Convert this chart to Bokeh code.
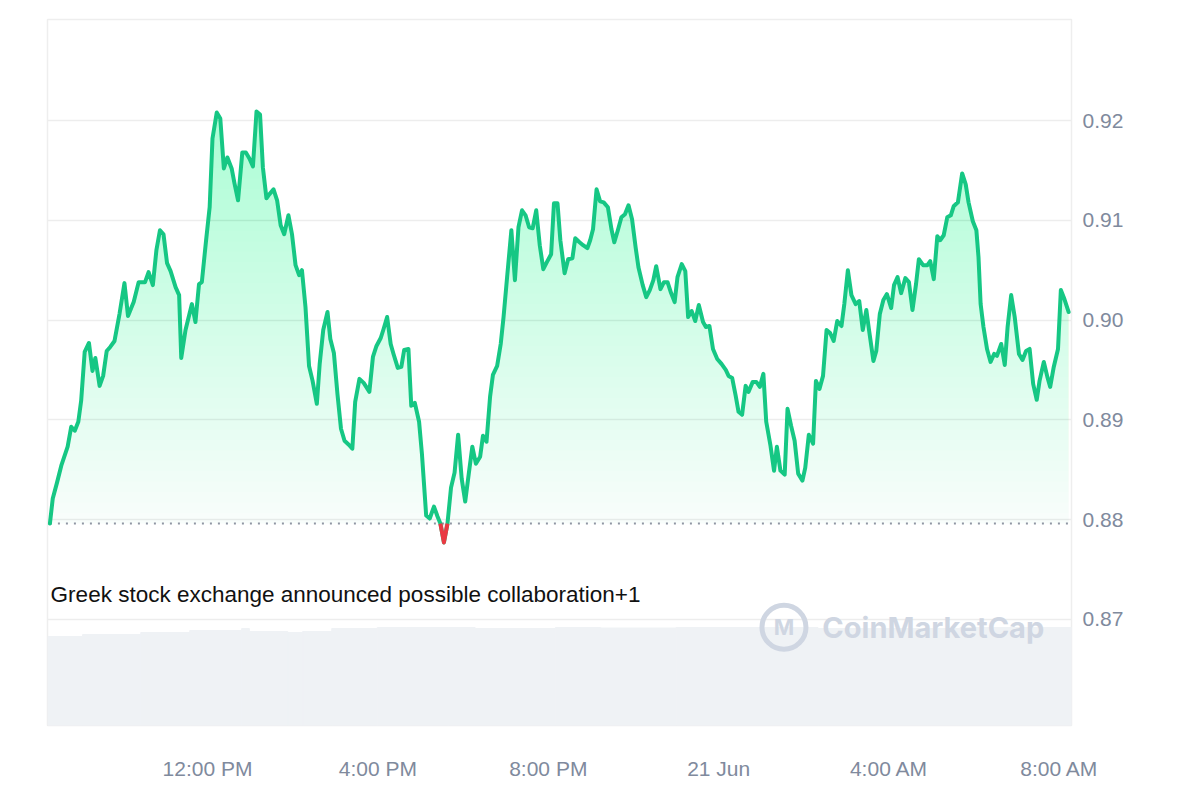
import numpy as np
from bokeh.plotting import figure
from bokeh.models import Range1d, FixedTicker, Label, PrintfTickFormatter
from bokeh.embed import file_html
from bokeh.resources import INLINE

# time in minutes since 08:00 on 20 Jun
minutes = [
    18, 22, 28, 34, 43, 48, 53, 58, 62, 67,
    73, 78, 82, 88, 93, 98, 103, 109, 116, 123,
    128, 136, 143, 152, 157, 163, 168, 173, 178, 183,
    188, 195, 200, 203, 209, 218, 223, 228, 232, 238,
    243, 247, 253, 258, 263, 268, 274, 278, 283, 289,
    294, 299, 304, 309, 314, 318, 323, 327, 333, 338,
    343, 348, 354, 359, 364, 369, 373, 378, 383, 388,
    394, 398, 403, 409, 413, 418, 423, 428, 433, 439,
    444, 448, 454, 460, 468, 473, 478, 484, 488, 493,
    498, 502, 508, 513, 517, 523, 527, 532, 538, 542,
    548, 553, 559, 564, 568, 573, 578, 583, 588, 593,
    598, 603, 608, 613, 618, 624, 628, 633, 638, 642,
    648, 653, 657, 662, 668, 673, 678, 683, 688, 693,
    698, 703, 708, 713, 718, 724, 728, 733, 737, 743,
    748, 754, 758, 764, 769, 775, 779, 783, 788, 793,
    798, 804, 809, 813, 818, 823, 828, 833, 838, 843,
    847, 853, 858, 863, 868, 872, 878, 883, 888, 893,
    898, 902, 908, 913, 917, 922, 927, 932, 938, 942,
    947, 952, 958, 964, 970, 974, 979, 984, 988, 993,
    998, 1002, 1008, 1013, 1018, 1023, 1027, 1033, 1038, 1042,
    1047, 1053, 1057, 1062, 1067, 1072, 1078, 1082, 1087, 1093,
    1097, 1102, 1107, 1112, 1117, 1122, 1127, 1133, 1137, 1142,
    1147, 1153, 1158, 1163, 1168, 1172, 1178, 1182, 1187, 1192,
    1197, 1203, 1207, 1212, 1217, 1223, 1228, 1233, 1238, 1242,
    1248, 1254, 1258, 1263, 1268, 1272, 1277, 1282, 1287, 1291,
    1297, 1303, 1308, 1312, 1318, 1323, 1326, 1329, 1333, 1338,
    1343, 1348, 1352, 1358, 1363, 1367, 1372, 1377, 1383, 1388,
    1393, 1398, 1403, 1408, 1412, 1418, 1423, 1427, 1432, 1438,
    1442, 1447, 1453,
]

prices = [
    0.8796, 0.8821, 0.8837, 0.8854, 0.8873, 0.8893, 0.8889, 0.8898, 0.8919, 0.8968,
    0.8977, 0.8949, 0.8962, 0.8934, 0.8944, 0.8969, 0.8973, 0.8979, 0.9006, 0.9037,
    0.9004, 0.9018, 0.9038, 0.9038, 0.9048, 0.9035, 0.9070, 0.9090, 0.9086, 0.9057,
    0.9049, 0.9033, 0.9025, 0.8962, 0.8990, 0.9016, 0.8998, 0.9036, 0.9038, 0.9080,
    0.9113, 0.9182, 0.9208, 0.9202, 0.9152, 0.9163, 0.9152, 0.9137, 0.9120, 0.9168,
    0.9168, 0.9162, 0.9154, 0.9209, 0.9206, 0.9153, 0.9122, 0.9126, 0.9131, 0.9120,
    0.9095, 0.9086, 0.9105, 0.9086, 0.9055, 0.9045, 0.9050, 0.9013, 0.8954, 0.8939,
    0.8916, 0.8956, 0.8990, 0.9008, 0.8981, 0.8967, 0.8926, 0.8891, 0.8879, 0.8875,
    0.8871, 0.8918, 0.8941, 0.8937, 0.8928, 0.8963, 0.8974, 0.8982, 0.8991, 0.9003,
    0.8976, 0.8966, 0.8952, 0.8953, 0.8970, 0.8971, 0.8914, 0.8917, 0.8898, 0.8866,
    0.8804, 0.8801, 0.8813, 0.8803, 0.8796, 0.8777, 0.8796, 0.8832, 0.8847, 0.8885,
    0.8841, 0.8818, 0.8846, 0.8873, 0.8856, 0.8863, 0.8884, 0.8878, 0.8923, 0.8945,
    0.8954, 0.8976, 0.9003, 0.9043, 0.9090, 0.9040, 0.9093, 0.9110, 0.9105, 0.9093,
    0.9092, 0.9110, 0.9075, 0.9051, 0.9058, 0.9066, 0.9117, 0.9117, 0.9080, 0.9047,
    0.9061, 0.9062, 0.9082, 0.9078, 0.9075, 0.9072, 0.9080, 0.9091, 0.9131, 0.9119,
    0.9118, 0.9113, 0.9091, 0.9078, 0.9090, 0.9103, 0.9106, 0.9115, 0.9101, 0.9073,
    0.9053, 0.9035, 0.9023, 0.9030, 0.9040, 0.9054, 0.9031, 0.9038, 0.9038, 0.9027,
    0.9018, 0.9043, 0.9056, 0.9049, 0.9003, 0.9009, 0.8999, 0.9015, 0.8998, 0.8993,
    0.8994, 0.8971, 0.8961, 0.8956, 0.8950, 0.8944, 0.8942, 0.8924, 0.8908, 0.8905,
    0.8934, 0.8928, 0.8938, 0.8938, 0.8933, 0.8946, 0.8898, 0.8874, 0.8849, 0.8873,
    0.8849, 0.8845, 0.8911, 0.8894, 0.8879, 0.8846, 0.8839, 0.8852, 0.8885, 0.8876,
    0.8939, 0.8931, 0.8944, 0.8990, 0.8987, 0.8979, 0.8999, 0.8994, 0.9016, 0.9050,
    0.9025, 0.9016, 0.9019, 0.8990, 0.9010, 0.8989, 0.8959, 0.8969, 0.9006, 0.9020,
    0.9026, 0.9012, 0.9035, 0.9043, 0.9027, 0.9042, 0.9038, 0.9010, 0.9036, 0.9061,
    0.9055, 0.9055, 0.9059, 0.9041, 0.9084, 0.9080, 0.9085, 0.9103, 0.9105, 0.9114,
    0.9118, 0.9147, 0.9136, 0.9118, 0.9099, 0.9090, 0.9063, 0.9016, 0.8993, 0.8971,
    0.8958, 0.8966, 0.8964, 0.8976, 0.8955, 0.8993, 0.9025, 0.9003, 0.8966, 0.8960,
    0.8969, 0.8971, 0.8936, 0.8920, 0.8939, 0.8958, 0.8943, 0.8933, 0.8953, 0.8971,
    0.9030, 0.9021, 0.9008,
]

# volume (millions), as step blocks: start / end minute, value
vol_start = [15, 64, 146, 215, 288, 299, 353, 374, 415, 479, 520, 579, 617, 730, 794, 900, 1100, 1300]
vol_end = [64, 146, 215, 288, 299, 353, 374, 415, 479, 520, 579, 617, 730, 794, 900, 1100, 1300, 1457]
vol_value = [8.9, 9.1, 9.3, 9.5, 9.7, 9.4, 9.3, 9.4, 9.7, 9.8, 9.8, 9.8, 9.7, 9.8, 9.75, 9.8, 9.7, 9.8]

price_ticks = [0.87, 0.88, 0.89, 0.90, 0.91, 0.92]
time_ticks = [240, 480, 720, 960, 1200, 1440]
time_labels = ["12:00 PM", "4:00 PM", "8:00 PM", "21 Jun", "4:00 AM", "8:00 AM"]

news_text = "Greek stock exchange announced possible collaboration+1"

assert len(minutes) == len(prices)

GREEN = "#16c784"
RED = "#ea3943"
LABEL = "#808a9d"
VOL = "#eff2f5"
WM = "#cfd6e2"

t = np.array(minutes, dtype=float)
pr = np.array(prices, dtype=float)
base = pr[0]

# insert baseline crossing points
ts, ps = [t[0]], [pr[0]]
for i in range(len(t) - 1):
    p0, p1 = pr[i], pr[i + 1]
    if (p0 - base) * (p1 - base) < 0:
        f = (base - p0) / (p1 - p0)
        ts.append(t[i] + f * (t[i + 1] - t[i]))
        ps.append(base)
    ts.append(t[i + 1])
    ps.append(p1)
ts = np.array(ts)
ps = np.array(ps)

p = figure(
    width=1200, height=800,
    x_range=Range1d(14.6, 1457), y_range=Range1d(0.85935, 0.93013),
    y_axis_location="right",
    output_backend="svg", toolbar_location=None,
    min_border_left=47, min_border_right=129, min_border_top=19, min_border_bottom=75,
    background_fill_color="white", border_fill_color="white",
)
p.outline_line_color = "#eeeeee"
p.outline_line_width = 1.5

# volume
p.extra_y_ranges = {"vol": Range1d(0, 70.6)}
p.quad(left=vol_start, right=vol_end, bottom=0, top=vol_value, y_range_name="vol",
       fill_color=VOL, line_color=VOL, line_width=1)

# gradient fill (stacked translucent layers)
top = 0.9215
N = 40
levels = base + (top - base) * np.arange(N) / N
for k, L in enumerate(levels):
    a = 0.03 if k == 0 else 0.0072
    p.varea(x=ts, y1=np.full_like(ps, L), y2=np.maximum(ps, L), fill_color=GREEN, fill_alpha=a)
# red fill below baseline
p.varea(x=ts, y1=np.minimum(ps, base), y2=np.full_like(ps, base), fill_color=RED, fill_alpha=0.12)

# baseline dotted
p.line(x=[ts[0], ts[-1]], y=[base, base], line_color="#8f96a3", line_width=2, line_dash="2 6")

# price line
p.line(x=ts, y=ps, line_color=GREEN, line_width=4, line_join="round", line_cap="round")

# red segments
xs_red, ys_red = [], []
cur_x, cur_y = [], []
for x_, y_ in zip(ts, ps):
    if y_ <= base:
        cur_x.append(x_)
        cur_y.append(y_)
    else:
        if len(cur_x) > 1 and min(cur_y) < base:
            xs_red.append(cur_x)
            ys_red.append(cur_y)
        cur_x, cur_y = [], []
if len(cur_x) > 1 and min(cur_y) < base:
    xs_red.append(cur_x)
    ys_red.append(cur_y)
if xs_red:
    p.multi_line(xs=xs_red, ys=ys_red, line_color=RED, line_width=4, line_join="round")

# axes
p.xgrid.grid_line_color = None
p.ygrid.grid_line_color = "#ededed"
p.ygrid.grid_line_width = 1.5
p.yaxis.ticker = FixedTicker(ticks=price_ticks)
p.yaxis.formatter = PrintfTickFormatter(format="%.2f")
p.xaxis.ticker = FixedTicker(ticks=time_ticks)
p.xaxis.major_label_overrides = {tv: lb for tv, lb in zip(time_ticks, time_labels)}
for ax in (p.xaxis[0], p.yaxis[0]):
    ax.axis_line_color = None
    ax.major_tick_line_color = None
    ax.minor_tick_line_color = None
    ax.major_label_text_font = "Liberation Sans"
    ax.major_label_text_font_size = "21px"
    ax.major_label_text_color = LABEL
p.yaxis.major_label_standoff = 5
p.xaxis.major_label_standoff = 25

# news annotation
p.add_layout(Label(x=19, y=0.8725, text=news_text, text_font="Liberation Sans",
                   text_font_size="22.5px", text_color="#111111", text_baseline="alphabetic"))

# watermark
p.scatter(x=[1052], y=[0.8692], marker="circle", size=44, fill_color=None,
          line_color=WM, line_width=5)
p.add_layout(Label(x=1052, y=0.8692, text="M", text_font="Inter", text_font_style="bold",
                   text_font_size="22px", text_color=WM, text_align="center",
                   text_baseline="middle"))
p.add_layout(Label(x=1106, y=0.8692, text="CoinMarketCap", text_font="Inter",
                   text_font_style="bold", text_font_size="29px", text_color=WM,
                   text_baseline="middle"))

open("out.html", "w").write(file_html(p, INLINE))
